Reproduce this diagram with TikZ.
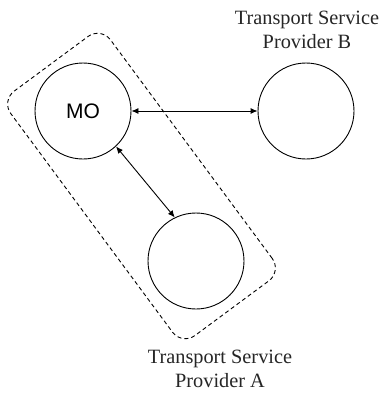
\documentclass[tikz,border=0pt]{standalone}
\usepackage{fontspec}
\setmainfont{Liberation Serif}
\setsansfont{Liberation Sans}
\usetikzlibrary{arrows.meta, calc}

\begin{document}
\begin{tikzpicture}[
  x=1pt, y=1pt,
  station/.style={
    circle, draw=black, line width=0.9pt,
    minimum size=96pt, inner sep=0pt,
    font=\fontsize{21}{24}\selectfont\sffamily
  },
  provlabel/.style={
    align=center, inner sep=0pt,
    font=\fontsize{20.3}{23.5}\selectfont, text=black!85
  },
  linkarrow/.style={
    draw=black, line width=0.9pt,
    {Latex[length=7pt, width=6pt]}-{Latex[length=7pt, width=6pt]}
  },
  groupbox/.style={
    rectangle, draw=black, line width=0.9pt,
    dash pattern=on 4pt off 3pt, rounded corners=16pt,
    minimum width=304pt, minimum height=124pt
  },
]
\useasboundingbox (0,0) rectangle (382,-397);

% Stations
\node[station] (mo)   at (83,-111)  {MO};
\node[station] (tspb) at (306,-111) {};
\node[station] (tspa) at (196,-261) {};

% Provider A group (dashed)
\node[groupbox, rotate=-53.5] (grpa) at ($(mo)!0.5!(tspa)+(2,0)$) {};

% Links
\draw[linkarrow] (mo) -- (tspb);
\draw[linkarrow] (mo.-47) -- (tspa.116);

% Labels
\node[provlabel] (lblb) at (307,-30)  {Transport Service\\Provider B};
\node[provlabel] (lbla) at (220,-369) {Transport Service\\Provider A};

\end{tikzpicture}
\end{document}
